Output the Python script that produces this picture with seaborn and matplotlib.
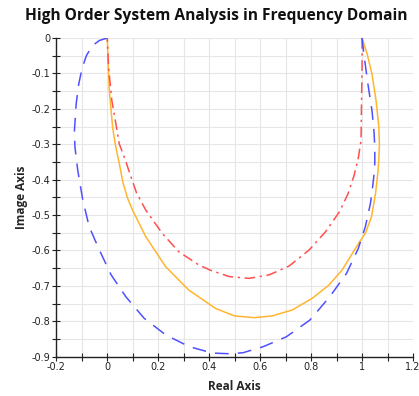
import matplotlib
matplotlib.use("Agg")
import matplotlib.pyplot as plt
import seaborn as sns
import pandas as pd
from matplotlib.ticker import MultipleLocator, FuncFormatter

# Data
blue_x = [1.0, 1.007, 1.023, 1.039, 1.047, 1.050, 1.050, 1.046, 1.040, 1.033, 1.013, 0.998,
          0.985, 0.939, 0.873, 0.795, 0.703, 0.612, 0.533, 0.481, 0.413, 0.322, 0.230, 0.145,
          0.073, 0.015, -0.031, -0.071, -0.096, -0.116, -0.127, -0.129, -0.122, -0.112, -0.099,
          -0.082, -0.059, -0.031, 0.0]
blue_y = [0.0, -0.045, -0.130, -0.205, -0.266, -0.307, -0.354, -0.392, -0.430, -0.467, -0.533, -0.566,
          -0.595, -0.665, -0.731, -0.797, -0.844, -0.872, -0.889, -0.892, -0.890, -0.872, -0.839, -0.792,
          -0.731, -0.669, -0.599, -0.533, -0.458, -0.373, -0.307, -0.262, -0.186, -0.130, -0.086,
          -0.050, -0.022, -0.007, 0.0]

orange_x = [1.0, 1.020, 1.039, 1.055, 1.066, 1.068, 1.066, 1.063, 1.053, 1.037, 1.014, 0.970,
            0.922, 0.870, 0.805, 0.727, 0.648, 0.577, 0.499, 0.425, 0.320, 0.229, 0.151, 0.099,
            0.080, 0.062, 0.047, 0.031, 0.021, 0.008, 0.004, 0.0]
orange_y = [0.0, -0.045, -0.102, -0.177, -0.252, -0.300, -0.340, -0.373, -0.439, -0.505, -0.550, -0.599,
            -0.655, -0.698, -0.735, -0.768, -0.785, -0.790, -0.785, -0.764, -0.712, -0.646, -0.561, -0.486,
            -0.453, -0.410, -0.354, -0.299, -0.252, -0.149, -0.080, 0.0]

red_x = [1.0, 1.0, 0.998, 0.996, 0.985, 0.968, 0.945, 0.912, 0.857, 0.792, 0.714, 0.636, 0.557,
         0.479, 0.405, 0.359, 0.281, 0.216, 0.151, 0.115, 0.066, 0.047, 0.034, 0.018, 0.005, 0.0]
red_y = [0.0, -0.083, -0.177, -0.290, -0.340, -0.390, -0.440, -0.490, -0.547, -0.599, -0.644, -0.669, -0.679,
         -0.674, -0.656, -0.641, -0.604, -0.552, -0.486, -0.438, -0.335, -0.299, -0.243, -0.177, -0.083, 0.0]

sns.set_style("white")
plt.rcParams['font.family'] = ['DejaVu Sans']

fig = plt.figure(figsize=(4.19, 3.96), dpi=100)
ax = fig.add_axes([0.1344, 0.0995, 0.8513, 0.8045])

frames = []
for name, xs, ys in [("blue", blue_x, blue_y), ("orange", orange_x, orange_y), ("red", red_x, red_y)]:
    frames.append(pd.DataFrame({"x": xs, "y": ys, "s": name}))
df = pd.concat(frames, ignore_index=True)

styles = {
    "orange": dict(color="#FFB52E", dashes=None),
    "red": dict(color="#FF4F4F", dashes=(7, 3, 1.5, 3)),
    "blue": dict(color="#5050FF", dashes=(9, 6)),
}
for name in ["orange", "red", "blue"]:
    sub = df[df.s == name]
    st = styles[name]
    sns.lineplot(data=sub, x="x", y="y", sort=False, estimator=None, ax=ax,
                 color=st["color"], linewidth=1.1)
    if st["dashes"] is not None:
        ax.lines[-1].set_dashes(st["dashes"])

ax.set_xlim(-0.2, 1.2)
ax.set_ylim(-0.9, 0.0)
ax.xaxis.set_major_locator(MultipleLocator(0.2))
ax.xaxis.set_minor_locator(MultipleLocator(0.1))
ax.yaxis.set_major_locator(MultipleLocator(0.1))
ax.yaxis.set_minor_locator(MultipleLocator(0.05))

def fmt(v, pos):
    s = f"{v:.1f}"
    if s in ("0.0", "-0.0"):
        return "0"
    if s == "1.0":
        return "1"
    return s
ax.xaxis.set_major_formatter(FuncFormatter(fmt))
ax.yaxis.set_major_formatter(FuncFormatter(fmt))

ax.grid(True, which="both", color="#e6e6e6", linewidth=0.8)
ax.set_axisbelow(True)
for sp in ["top", "right"]:
    ax.spines[sp].set_visible(False)
for sp in ["left", "bottom"]:
    ax.spines[sp].set_color("#222222")
    ax.spines[sp].set_linewidth(1.0)
ax.tick_params(which="both", direction="inout", length=6, width=0.8, color="#222222",
               labelsize=7, labelcolor="#222222", pad=1, left=True, bottom=True)

ax.set_xlabel("Real Axis", fontsize=8.5, fontweight="bold", labelpad=6,
              family=["Open Sans", "DejaVu Sans"])
ax.set_ylabel("Image Axis", fontsize=8.5, fontweight="bold", labelpad=3,
              family=["Open Sans", "DejaVu Sans"])
fig.text(0.515, 0.96, "High Order System Analysis in Frequency Domain", fontsize=11.2,
         fontweight="bold", ha="center", va="center", color="#111111",
         family=["Open Sans", "DejaVu Sans"])

fig.savefig("out.png", dpi=100)
